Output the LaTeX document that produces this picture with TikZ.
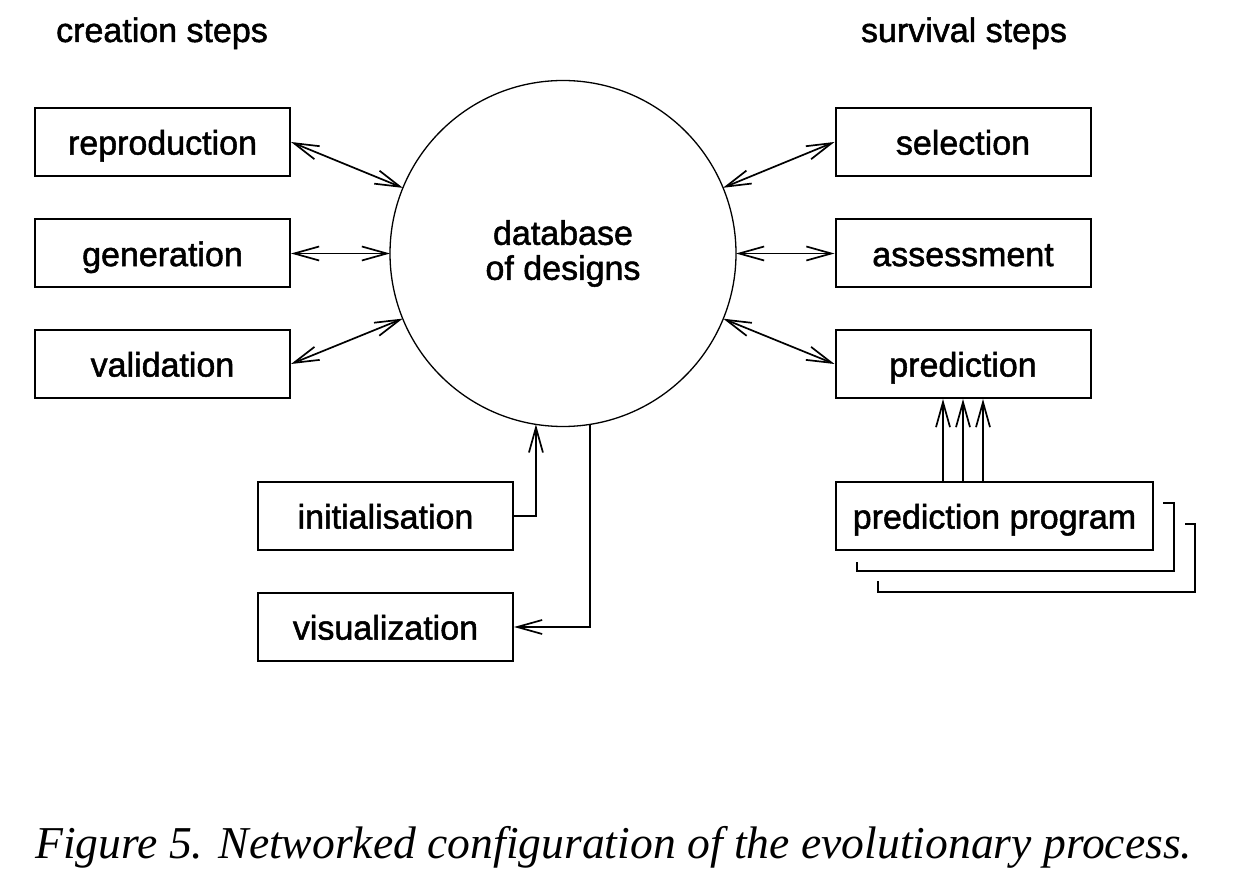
\documentclass[tikz,border=0pt]{standalone}
\usepackage{fontspec}
\setmainfont{Liberation Serif}
\newfontfamily\boxfont{Liberation Sans}[FakeBold=1.5]
\usetikzlibrary{arrows.meta}
\begin{document}
\begin{tikzpicture}[x=0.5pt,y=-0.5pt,
  >={Straight Barb[length=12.5pt,width=7pt]},
  box/.style={draw, line width=1pt, minimum width=127.5pt, minimum height=34pt, inner sep=0pt,
    font=\boxfont\fontsize{17}{17}\selectfont, text height=12.6pt, text depth=0pt},
  head/.style={font=\boxfont\fontsize{17}{17}\selectfont, inner sep=0pt, anchor=base},
  conn/.style={line width=0.85pt},
  stack/.style={line width=1pt}]
\useasboundingbox (0,0) rectangle (1252,881);

\node[head] (hc) at (162,42) {creation steps};
\node[head] (hs) at (964,42) {survival steps};

\node[box] (rep) at (162.5,142) {reproduction};
\node[box] (gen) at (162.5,253.5) {generation};
\node[box] (val) at (162.5,364) {validation};
\node[box] (sel) at (963,142) {selection};
\node[box] (ass) at (963,253.5) {assessment};
\node[box] (pred) at (963,364) {prediction};
\node[box] (init) at (385.5,516) {initialisation};
\node[box] (vis) at (385.5,627) {visualization};
\node[box, minimum width=158.5pt] (pp) at (994.5,516) {prediction program};

\node[circle, draw, line width=0.65pt, minimum size=173pt, inner sep=0pt, outer sep=0pt,
  align=center, font=\boxfont\fontsize{17}{17.5}\selectfont] (db) at (563,253.5) {database\\of designs};

\draw[conn,<->] (rep.east) -- (db);
\draw[conn,<->] (gen.east) -- (db);
\draw[conn,<->] (val.east) -- (db);
\draw[conn,<->] (sel.west) -- (db);
\draw[conn,<->] (ass.west) -- (db);
\draw[conn,<->] (pred.west) -- (db);

\draw[conn,->] (init.east) -| (db.261);
\draw[conn,->] (db.279) |- (vis.east);

\coordinate (c1) at (943,0);
\coordinate (c2) at (963,0);
\coordinate (c3) at (983,0);
\foreach \c in {c1,c2,c3}
  \draw[conn,->] (pp.north -| \c) -- (pred.south -| \c);

\draw[stack] (857,562) |- (1174,571) |- (1163,503);
\draw[stack] (878,581) |- (1195,592) |- (1185,524);

\node[anchor=base west, inner sep=0pt, font=\fontsize{22.8}{22.8}\selectfont\itshape] (cap) at (35,858)
  {Figure 5. Networked configuration of the evolutionary process.};
\end{tikzpicture}
\end{document}
